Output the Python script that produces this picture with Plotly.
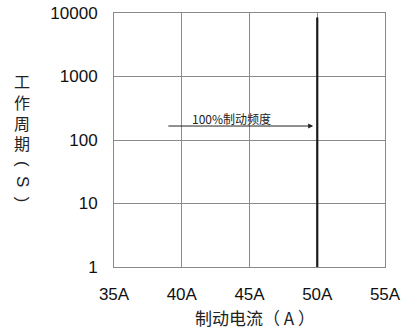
import math
import plotly.graph_objects as go

x_ticks = [35, 40, 45, 50, 55]
x_ticktext = ["35A", "40A", "45A", "50A", "55A"]
y_ticks = [1, 10, 100, 1000, 10000]
y_ticktext = ["1", "10", "100", "1000", "10000"]

limit_x = [50, 50]
limit_y = [1, 8500]

arrow_start = [38.9, 166]
arrow_end = [49.7, 166]
arrow_label = "100%制动频度"
label_pos = [43.7, 222]

FONT = "Liberation Sans, Arial, Noto Sans CJK SC, sans-serif"
CJK = "Noto Sans CJK SC, Liberation Sans, sans-serif"

fig = go.Figure()
fig.add_trace(go.Scatter(x=limit_x, y=limit_y, mode="lines",
                         line=dict(color="#1a1a1a", width=2.2), hoverinfo="skip",
                         showlegend=False))

fig.add_annotation(x=arrow_end[0], y=math.log10(arrow_end[1]),
                   ax=arrow_start[0], ay=math.log10(arrow_start[1]),
                   xref="x", yref="y", axref="x", ayref="y", text="", showarrow=True,
                   arrowhead=2, arrowsize=1, arrowwidth=1, arrowcolor="#222")
fig.add_annotation(x=label_pos[0], y=math.log10(label_pos[1]),
                   xref="x", yref="y", text=arrow_label, showarrow=False,
                   yanchor="middle", font=dict(family=CJK, size=12, color="#222"))

# y-axis title (vertical writing)
fig.add_annotation(x=-0.3395, y=0.612, xref="paper", yref="paper", text="工<br>作<br>周<br>期",
                   showarrow=False, font=dict(family=CJK, size=16, color="#222"),
                   xanchor="center", yanchor="middle")
fig.add_annotation(x=-0.3395, y=0.335, xref="paper", yref="paper", text="(  S  )",
                   textangle=90, showarrow=False,
                   font=dict(family=FONT, size=17, color="#222"),
                   xanchor="center", yanchor="middle")
# x-axis title
fig.add_annotation(x=0.52, y=-0.2, xref="paper", yref="paper", text="制动电流（ A ）",
                   showarrow=False, font=dict(family=CJK, size=17, color="#222"),
                   xanchor="center", yanchor="middle")

fig.update_layout(
    width=406, height=329,
    margin=dict(l=114, r=21, t=13, b=62),
    paper_bgcolor="white", plot_bgcolor="white",
    font=dict(family=FONT, size=17, color="#111"),
    xaxis=dict(range=[35, 55], tickvals=x_ticks, ticktext=x_ticktext,
               showgrid=True, gridcolor="#8a8a8a", gridwidth=1,
               showline=True, linecolor="#8a8a8a", linewidth=1, mirror=True,
               ticks="", ticklabelstandoff=12, zeroline=False, automargin=False),
    yaxis=dict(type="log", range=[0, 4], tickvals=y_ticks, ticktext=y_ticktext,
               showgrid=True, gridcolor="#8a8a8a", gridwidth=1,
               showline=True, linecolor="#8a8a8a", linewidth=1, mirror=True,
               ticks="", ticklabelstandoff=12, zeroline=False, automargin=False),
)

fig.write_html("out.html")
